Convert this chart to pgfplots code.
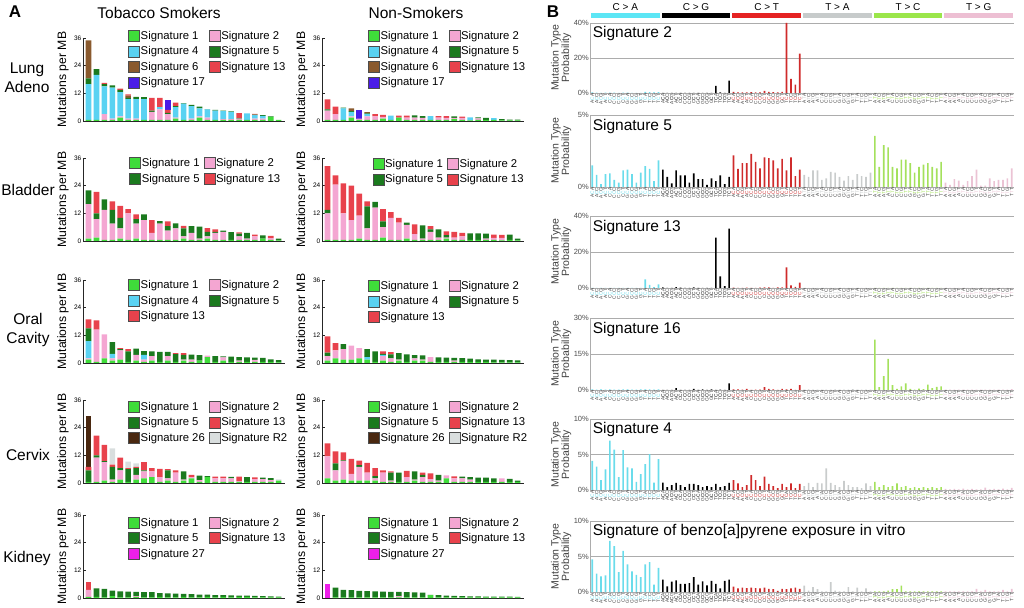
\documentclass[border=0pt]{standalone}
\usepackage{pgfplots}
\pgfplotsset{compat=1.18}
\usepackage{pgfplotstable}
\usepackage{fontspec}
\setmainfont{Liberation Sans}
\newcommand\fs[1]{\fontsize{#1}{#1}\selectfont}
\definecolor{cs1}{HTML}{3FDC3A}
\definecolor{cs2}{HTML}{F4A6D2}
\definecolor{cs4}{HTML}{5AD2F2}
\definecolor{cs5}{HTML}{1B7A1E}
\definecolor{cs6}{HTML}{8A5A2E}
\definecolor{cs13}{HTML}{E8424C}
\definecolor{cs17}{HTML}{4A1CE6}
\definecolor{cs26}{HTML}{4A2810}
\definecolor{csR2}{HTML}{D9DEDE}
\definecolor{cs27}{HTML}{EE1FEA}
\definecolor{bt0}{HTML}{6ADCEB}
\definecolor{bt1}{HTML}{000000}
\definecolor{bt2}{HTML}{CF2B2B}
\definecolor{bt3}{HTML}{C9CCCC}
\definecolor{bt4}{HTML}{A4E15C}
\definecolor{bt5}{HTML}{EBC3D4}
\definecolor{bd0}{HTML}{5CE6F5}
\definecolor{bd2}{HTML}{E52222}
\definecolor{bd3}{HTML}{C7CBCB}
\definecolor{bd4}{HTML}{9BE64A}
\definecolor{bd5}{HTML}{EDBFD3}

\newcommand\ctxB[1]{\ifcase#1 A\or C\or G\or T\fi}
\newcommand\ctxlab[1]{\pgfmathtruncatemacro\ctxM{int(#1/16)}\pgfmathtruncatemacro\ctxF{int(mod(#1,16)/4)}\pgfmathtruncatemacro\ctxT{mod(#1,4)}\ctxB{\ctxF}\textcolor{bt\ctxM}{\ifnum\ctxM<3 C\else T\fi}\ctxB{\ctxT}}

\pgfplotsset{
 sig/.style={fill=#1, draw=none, legend image code/.code={\draw[fill=#1,draw=black!70,line width=0.5pt] (0pt,-5.5pt) rectangle (11pt,5.5pt);}},
 Aax/.style={scale only axis, width=202pt, height=83pt, ymin=0, ymax=36, ytick={0,12,24,36},
   xmin=-0.7, xmax=24.8, xtick=\empty, ybar stacked, bar width=5.6pt,
   axis lines=left, axis line style={-,black!85,line width=0.6pt},
   tick align=inside, major tick length=2.5pt, tick style={black!85,line width=0.5pt},
   yticklabel style={font=\fs{6.5}, inner sep=1.5pt},
   ylabel={Mutations per MB}, ylabel style={font=\fs{12.2}, at={(axis description cs:-0.099,0.5)}, anchor=center},
   legend cell align=left, legend columns=2,
   legend style={draw=none, fill=none, inner sep=0pt, font=\fs{11.3}, row sep=3.8pt,
     /tikz/every even column/.append style={column sep=3pt}, nodes={inner sep=1pt}, anchor=north west},
   /pgf/number format/assume math mode=true, clip=false},
 Bax/.style={scale only axis, width=424pt, xmin=-0.5, xmax=95.5, ymin=0, ybar, bar width=1.7pt, bar shift=0pt,
   xtick={0,...,95}, xticklabel={\ctxlab{\ticknum}},
   xticklabel style={rotate=90, anchor=east, font=\fs{4.8}, inner sep=0.6pt, text=black!75},
   major tick length=0pt, axis lines=left, axis line style={-,gray!65,line width=0.8pt},
   ymajorgrids, grid style={gray!65,line width=0.8pt},
   yticklabel style={font=\fs{7.5}, text=black!70, inner sep=1pt},
   ylabel={Mutation Type\\Probability}, ylabel style={font=\fs{10.5}, align=center, text=black!75, at={(axis description cs:-0.068,0.5)}, anchor=center},
   clip=false}
}
\newcommand\Ap[2]{\addplot[sig=c#1] table[x expr=\coordindex,y=#1]{#2};}
\newcommand\Bp[1]{%
 \addplot[fill=bt0,draw=none] table[x expr=\coordindex,y=CA]{#1};
 \addplot[fill=bt1,draw=none] table[x expr=\coordindex+16,y=CG]{#1};
 \addplot[fill=bt2,draw=none] table[x expr=\coordindex+32,y=CT]{#1};
 \addplot[fill=bt3,draw=none] table[x expr=\coordindex+48,y=TA]{#1};
 \addplot[fill=bt4,draw=none] table[x expr=\coordindex+64,y=TC]{#1};
 \addplot[fill=bt5,draw=none] table[x expr=\coordindex+80,y=TG]{#1};}

% ---------------- Panel A data ----------------
\pgfplotstableread{
s1 s2 s4 s5 s6 s13 s17
0.5 0 15.5 2.5 16.5 0 0
0.5 0 19.5 2.5 0 0 0
0.5 2.5 12 1 0 0.5 0
0.5 0.5 13.5 1 0 0 0
1.5 0.5 10.5 1 0 0.5 0
0.5 0.5 8.5 0.5 1 0.5 0
0.5 0.5 8.5 1 0 0 0
0.5 0 9 0.8 0 0 0
0.5 3.5 0 0.5 0 5.5 0
0.5 4.5 1 0 0 4 0
0.5 2.5 0 0.5 0 1.3 4.3
1 0.5 4.5 0.5 0 1.5 0
0.5 0 7 0.3 0 0 0
0.5 0.5 5.5 0.5 0 0 0
1.5 0.5 3.5 0.7 0 0 0
0.5 1 3.5 0.2 0 0 0
0.5 0 4 0.3 0 0 0
0.5 0.3 3.5 0.2 0 0 0
0.5 0.3 3.2 0.2 0 0 0
0.5 0.5 0 0.2 0 2.2 0
0.5 0 2.8 0 0 0 0
0.5 0.5 1.5 0.3 0 0.3 0
0.5 0.5 1.2 0.3 0 0 0
1.8 0 0 0.2 0 0 0
0.5 0 0 0 0 0 0
}\lungS
\pgfplotstableread{
s1 s2 s4 s5 s6 s13 s17
0.5 4 0 0.5 0 4.4 0
0.5 2.5 0 0 0 3.2 0
0.5 0 5 0.3 0 0 0
1.5 0.5 2 0.3 1.2 0 0
0.5 0.5 0 0 0 0 3.6
0.5 1.5 1 0.3 0.6 0 0
0.5 1.5 0 0 0 1 0
1 0.8 0 0 0 0.9 0
0.5 0 1.8 0 0 0 0
1.5 0 0 0 0 0.8 0
0.5 1 0 0 0 0.8 0
0.5 1 0 0.9 0 0 0
0.5 0.8 0 0.8 0 0 0
0.5 0 1.6 0 0 0 0
0.5 1 0 0 0 0.6 0
0.5 0.8 0 0 0 0.8 0
0.8 0.5 0 0.7 0 0 0
0.5 0.8 0 0 0 0.6 0
0.3 0 1.3 0 0 0 0
0.5 0.6 0 0.5 0 0 0
0.5 0 0 0.8 0 0 0
0.5 0 0.7 0 0 0 0
0.3 0 0 0.5 0 0 0
0.3 0 0 0.3 0 0 0
0.3 0 0 0.3 0 0 0
}\lungN
\pgfplotstableread{
s1 s2 s5 s13
1 15 6 0
1.5 8 2.5 9.3
0.5 13 4.5 0
0.5 7 6 3.7
1 4.5 4.5 5.2
0.5 11.5 0 1.8
1 6.5 2 2
0.5 8.5 2.5 0
0.5 3 0 5.5
0.5 7 1.1 0
0.5 4 2 2
0.5 5 2.1 0
1 1 3.5 1.1
0.5 3 3 0
0.5 0.5 5.2 0
1 1 2 1.6
0.5 3 0.5 1
0.5 3.5 0.5 0
0.5 0 3.3 0
0.5 1.5 1.2 0.5
0.5 0.5 2.5 0
0.5 1.5 0 0.8
1 0 1.4 0
0.5 0.7 0 1
0.3 0 0.7 0
}\bladS
\pgfplotstableread{
s1 s2 s5 s13
0.5 11.5 1.5 19
0.5 24 0 4
0.5 11.5 0 13
0.5 8.5 0 15
1 10 0 9.5
0.5 5 9.5 2.2
0.5 14 2.5 0
1.5 4.5 2.5 5.3
0.5 9.5 0 2.5
0.5 7.5 0 2
1 6 1 0
0.5 2.5 0 4.2
0.5 0.5 5.8 0
0.5 3.5 1 1.5
0.5 1 3.5 0
1 0.5 1 1.7
0.5 1 0 2.5
0.5 1.5 0 1.5
0.5 0 2.8 0
0.5 0 2.8 0
0.5 0.5 2.2 0
0.5 0.8 0 1.5
0.3 1 0 1.4
0.5 0 2.3 0
0.3 0 0.7 0
}\bladN
\pgfplotstableread{
s1 s2 s4 s5 s13
1.5 0.5 7.5 5.5 3.9
0.5 14 0 0 4
2 10.4 0 0 0
1 1 2 5 0
1.5 4 0 0.5 0.5
0.5 0 0 4.5 1
1 2.5 0 2.7 0
0.5 1 2 1.7 0
1 2 0 2 0
0.5 0 0 4.3 0
1 2 0 1.8 0
0.5 0 0 3.3 0.5
1 0.5 0 2 0.8
0.5 1 0 2.1 0
1 0 0 2.4 0
2.5 0.7 0 0 0
0.5 0 0 2.5 0
1 1.4 0 0.5 0
0.5 0 0 2.3 0
0.5 0.5 0 1.5 0
0.5 0 0 1.9 0
0.5 0.8 0 1 0
0.5 0 0 1.7 0
0.5 0 0 1.1 0
0.3 0 0 0.9 0
}\oralS
\pgfplotstableread{
s1 s2 s4 s5 s13
1 2 0 1.5 7
2 3.5 0 0 3.1
1.5 4.5 0 2.2 0
1.5 6 0 0 0
2 4.5 0 0 0
1.5 0 1 3.5 0
0.5 0 0 4.5 0
1 2 0.5 0.5 1
0.5 1.5 0 1.7 1
1 0.5 0 2.8 0
0.5 0 0 3.2 0
1 1 0 1.4 0
1 0.5 0 1.8 0
0.5 2 0 0 0
0.5 0 0 1.9 0
0.5 0 0 1.8 0
0.5 0.5 0 1.2 0
0.5 0 0 1.6 0
0.5 0 0 1.4 0
0.5 0 0 1.1 0
0.5 0 0 1 0
0.3 0 0 1.2 0
0.3 0 0 1 0
0.3 0 0 0.9 0
0.3 0 0 0.8 0
}\oralN
\pgfplotstableread{
s1 s2 s5 s13 s26 sR2
0.5 0 5 1.5 22 0
0.5 10.5 1 8.5 0 0
1 8 0.5 7 0 0
0.5 1 5.5 1 0 7
1.5 4 1 4.5 0 0
0.5 0 5.5 0.5 0 2.8
1.5 2 3 0.5 0 1.5
2 3 0.5 3.5 0 0
2.5 2.5 0 1.5 0 0
0.5 2 0 3.6 0 0
1 1 3.5 0.5 0 0
0.5 4 0 1 0 0
1 0.5 3.5 0 0 0
2 0.5 0 1 0 0
0.5 0.7 2 0 0 0
2.5 0 0.5 0 0 0
0.5 1.5 0 0.8 0 0
0.5 1.5 0 0.8 0 0
0.5 1.5 0.7 0 0 0
0.5 0.3 0 2 0 0
0.5 0 2 0 0 0
0.5 1.2 0 0.7 0 0
0.5 1.2 0.6 0 0 0
0.5 0.8 0.8 0 0 0
1 0 0 0 0 0.6
}\cervS
\pgfplotstableread{
s1 s2 s5 s13 s26 sR2
2 9.5 0 5.7 0 0
1 4.5 3 5.2 0 0
1.5 8 0.3 3.5 0 0
1 3 0 6.5 0 0
1 6 0.7 2 0 0
1 3.5 0 4.2 0 0
1 1 1 3.5 0 0
0.5 4 0 1 0 0
0.5 0.5 3.5 0.5 0 0
0.5 0 4 0 0 0
0.5 2 0 2.8 0 0
1 0.5 3.5 0 0 0
0.5 2 1 1 0 0
0.5 1.2 0 2.5 0 0
0.5 0.5 2.5 0 0 0
2 1.3 0 0 0 0
0.5 1.5 0 0.9 0 0
0.5 1.5 0.8 0 0 0
0.5 1 1 0 0 0
0.5 0 1.8 0 0 0
0.5 0 1.8 0 0 0
0.5 0 1.5 0 0 0
0.5 1.5 0 0 0 0
0.5 0 1.3 0 0 0
0.5 0 0.5 0 0 0
}\cervN
\pgfplotstableread{
s1 s2 s5 s13 s27
0.5 3 0 3.5 0
0.5 0 3.7 0 0
0.3 0 3.7 0 0
0.8 0 2.4 0 0
0.3 0 2.6 0 0
0.3 0 2.5 0 0
0.5 0.3 1.9 0 0
0.3 0 2.3 0 0
0.3 0 2.2 0 0
0.5 0 1.6 0 0
0.3 0 1.7 0 0
0.3 0 1.6 0 0
0.5 0 1.3 0 0
0.3 0 1.4 0 0
0.3 0 1.2 0 0
0.5 0 1.0 0 0
0.3 0 1.0 0 0
0.5 0 0.7 0 0
0.3 0 0.8 0 0
0.5 0 0.5 0 0
0.5 0 0.5 0 0
0.3 0 0.6 0 0
0.3 0 0.5 0 0
0.3 0 0.4 0 0
0.3 0 0.3 0 0
}\kidS
\pgfplotstableread{
s1 s2 s5 s13 s27
0 0 0 0 6
0.3 0 4.2 0 0
0.3 0 3.2 0 0
0.3 0 3.1 0 0
0.3 0 2.8 0 0
0.3 0 2.7 0 0
0.3 0 2.6 0 0
0.3 0 2.5 0 0
0.3 0 2.4 0 0
0.3 0.4 2.0 0 0
0.3 0 2.2 0 0
0.3 0 2.1 0 0
0.3 0 2.0 0 0
1.2 0 0.2 0 0
0.3 0 1.0 0 0
0.3 0 0.7 0 0
0.3 0 0.6 0 0
0.3 0 0.5 0 0
0.3 0 0.4 0 0
0.3 0 0.4 0 0
0.3 0 0.3 0 0
0.3 0 0.3 0 0
0.3 0 0.3 0 0
0.3 0 0.3 0 0
0.3 0 0.2 0 0
}\kidN

% ---------------- Panel B data ----------------
\pgfplotstableread{
CA CG CT TA TC TG
0.3 0.1 0.6 0.1 0.1 0.1
0.2 0.1 0.3 0.1 0.1 0.1
0.1 0.1 0.3 0.1 0.1 0.1
0.2 0.1 0.4 0.1 0.1 0.1
0.2 0.1 0.5 0.1 0.1 0.1
0.2 0.1 0.3 0.1 0.1 0.1
0.1 0.1 0.3 0.1 0.1 0.1
0.2 0.1 1.2 0.1 0.1 0.1
0.2 0.1 0.6 0.1 0.1 0.1
0.1 0.1 0.5 0.1 0.1 0.1
0.1 0.1 0.4 0.1 0.1 0.1
0.1 0.1 0.6 0.1 0.1 0.1
0.6 4.0 40 0.1 0.1 0.1
0.5 0.3 8 0.1 0.1 0.1
0.3 0.1 4.8 0.1 0.1 0.1
0.5 7.0 22.5 0.1 0.1 0.1
}\sigTwo
\pgfplotstableread{
CA CG CT TA TC TG
1.5 1.2 2.2 0.85 3.55 0.3
0.85 0.7 1.25 0.7 1.4 0.15
0.2 0.25 1.65 1.15 2.9 0.55
0.9 1.15 1.65 1.15 2.75 0.45
0.95 0.8 2.3 0.5 1.4 0.15
0.5 0.8 1.75 0.6 1.3 0.4
0.3 0.3 1.3 1.05 1.9 0.75
1.15 0.95 2.05 1.0 1.9 1.2
1.2 0.55 2.0 0.7 1.65 0.1
0.9 0.55 1.85 0.45 1.0 0.1
0.3 0.15 1.3 0.75 1.4 0.6
1.0 0.6 1.95 0.5 1.55 0.4
1.45 0.4 1.15 0.9 1.65 0.5
1.25 0.8 2.05 0.75 1.4 0.5
0.4 0.2 0.75 0.7 1.3 0.6
1.85 0.7 1.2 1.0 1.75 1.3
}\sigFive
\pgfplotstableread{
CA CG CT TA TC TG
0.1 0.3 0.2 0.05 0.05 0.05
0.1 0.1 0.1 0.05 0.05 0.05
0.1 0.1 0.1 0.05 0.05 0.05
0.1 0.5 0.2 0.05 0.05 0.05
0.1 0.2 0.1 0.05 0.05 0.05
0.1 0.1 0.1 0.05 0.05 0.05
0.1 0.1 0.2 0.05 0.05 0.05
0.1 0.4 0.3 0.05 0.05 0.05
0.1 0.1 0.3 0.05 0.05 0.05
0.1 0.1 0.1 0.05 0.05 0.05
0.1 0.1 0.3 0.05 0.05 0.05
0.1 0.1 0.3 0.05 0.05 0.05
4.8 28 11.5 0.05 0.05 0.05
1.8 6.5 1.5 0.05 0.05 0.05
0.5 1.0 0.6 0.05 0.05 0.05
2.0 33 3.0 0.05 0.05 0.05
}\sigThirteen
\pgfplotstableread{
CA CG CT TA TC TG
0.3 0.1 0.3 0.2 21 0.2
0.2 0.1 0.3 0.3 1.2 0.2
0.3 0.1 0.2 0.2 5.8 0.2
0.2 0.8 0.5 0.2 13 0.2
0.3 0.1 0.1 0.2 2.0 0.2
0.2 0.1 0.2 0.2 0.5 0.2
0.2 0.1 0.2 0.2 1.5 0.2
0.3 0.5 1.2 0.3 2.8 0.2
0.3 0.1 0.5 0.2 0.5 0.2
0.2 0.3 0.3 0.2 0.2 0.2
0.2 0.1 0.1 0.2 0.6 0.2
0.3 0.3 0.5 0.4 0.4 0.2
0.3 0.1 0.3 0.2 2.2 0.2
0.3 0.2 0.5 0.2 0.8 0.2
0.2 0.1 0.1 0.2 1.3 0.2
0.3 2.8 2.0 0.2 1.5 0.4
}\sigSixteen
\pgfplotstableread{
CA CG CT TA TC TG
4.1 1.05 1.4 0.55 1.15 0.15
3.3 0.4 0.95 1.0 0.4 0.1
1.4 0.7 0.4 0.4 0.7 0.15
2.9 1.0 0.7 1.0 0.4 0.1
6.95 0.7 2.1 0.95 0.55 0.2
5.7 0.4 1.4 3.05 0.95 0.1
1.8 0.85 0.55 1.0 0.4 0.15
5.6 0.85 1.9 0.7 0.55 0.1
3.2 0.7 0.85 0.4 0.25 0.1
3.05 0.4 0.55 1.3 0.4 0.35
1.15 0.55 0.25 0.7 0.25 0.1
2.25 0.4 0.85 0.4 0.4 0.15
3.65 0.85 0.4 0.4 0.25 0.1
5.05 0.4 0.95 0.25 0.4 0.2
1.05 0.55 0.25 0.95 0.25 0.1
4.35 1.0 0.85 0.55 0.4 0.3
}\sigFour
\pgfplotstableread{
CA CG CT TA TC TG
4.6 1.75 0.75 0.9 0.1 0.1
2.6 0.8 0.5 0.2 0.1 0.1
2.2 1.45 0.6 0.7 0.1 0.1
2.35 1.65 0.55 0.4 0.2 0.1
7.2 1.15 0.6 0.1 0.4 0.1
6.45 1.15 0.55 0.1 0.4 0.1
2.8 1.25 0.5 1.4 0.9 0.1
5.8 2.1 0.6 0.2 0.1 0.45
3.9 1.05 0.45 0.1 0.1 0.1
2.9 1.5 0.4 0.1 0.1 0.3
2.4 0.95 0.15 0.7 0.1 0.1
2.1 1.55 0.45 0.1 0.1 0.1
3.9 1.15 0.4 0.6 0.1 0.1
4.2 0.5 0.5 0.1 0.1 0.3
1.05 1.55 0.6 0.5 0.1 0.1
3.4 1.75 0.45 0.1 0.1 0.45
}\sigBenzo

\begin{document}
\begin{tikzpicture}
\useasboundingbox (0,0) rectangle (1024pt,607pt);
% titles
\node[font=\bfseries\fs{17}] at (15pt,595pt) {A};
\node[font=\bfseries\fs{17}] at (553pt,595pt) {B};
\node[font=\fs{15.5}] at (159pt,594pt) {Tobacco Smokers};
\node[font=\fs{15.5}] at (416pt,594pt) {Non-Smokers};
\node[font=\fontsize{15.5}{19.5}\selectfont, align=center] at (27pt,529pt) {Lung\\Adeno};
\node[font=\fs{15.5}] at (28pt,417pt) {Bladder};
\node[font=\fontsize{15.5}{19.5}\selectfont, align=center] at (28pt,277pt) {Oral\\Cavity};
\node[font=\fs{15.5}] at (28pt,152pt) {Cervix};
\node[font=\fs{15.5}] at (27pt,49pt) {Kidney};

% ---- Lung ----
\begin{axis}[Aax, at={(83pt,486pt)}, anchor=south west, legend style={at={(0.223,1.096)}}]
\Ap{s1}{\lungS}\Ap{s2}{\lungS}\Ap{s4}{\lungS}\Ap{s5}{\lungS}\Ap{s6}{\lungS}\Ap{s13}{\lungS}\Ap{s17}{\lungS}
\legend{Signature 1,Signature 2,Signature 4,Signature 5,Signature 6,Signature 13,Signature 17}
\end{axis}
\begin{axis}[Aax, at={(322pt,486pt)}, anchor=south west, legend style={at={(0.227,1.096)}}]
\Ap{s1}{\lungN}\Ap{s2}{\lungN}\Ap{s4}{\lungN}\Ap{s5}{\lungN}\Ap{s6}{\lungN}\Ap{s13}{\lungN}\Ap{s17}{\lungN}
\legend{Signature 1,Signature 2,Signature 4,Signature 5,Signature 6,Signature 13,Signature 17}
\end{axis}
% ---- Bladder ----
\begin{axis}[Aax, at={(83pt,366pt)}, anchor=south west, legend style={at={(0.228,1.01)}}]
\Ap{s1}{\bladS}\Ap{s2}{\bladS}\Ap{s5}{\bladS}\Ap{s13}{\bladS}
\legend{Signature 1,Signature 2,Signature 5,Signature 13}
\end{axis}
\begin{axis}[Aax, at={(322pt,366pt)}, anchor=south west, legend style={at={(0.25,1.0)}}]
\Ap{s1}{\bladN}\Ap{s2}{\bladN}\Ap{s5}{\bladN}\Ap{s13}{\bladN}
\legend{Signature 1,Signature 2,Signature 5,Signature 13}
\end{axis}
% ---- Oral ----
\begin{axis}[Aax, at={(83pt,244pt)}, anchor=south west, legend style={at={(0.223,1.01)}}]
\Ap{s1}{\oralS}\Ap{s2}{\oralS}\Ap{s4}{\oralS}\Ap{s5}{\oralS}\Ap{s13}{\oralS}
\legend{Signature 1,Signature 2,Signature 4,Signature 5,Signature 13}
\end{axis}
\begin{axis}[Aax, at={(322pt,244pt)}, anchor=south west, legend style={at={(0.227,1.0)}}]
\Ap{s1}{\oralN}\Ap{s2}{\oralN}\Ap{s4}{\oralN}\Ap{s5}{\oralN}\Ap{s13}{\oralN}
\legend{Signature 1,Signature 2,Signature 4,Signature 5,Signature 13}
\end{axis}
% ---- Cervix ----
\begin{axis}[Aax, at={(83pt,124pt)}, anchor=south west, legend style={at={(0.223,0.99)}}]
\Ap{s1}{\cervS}\Ap{s2}{\cervS}\Ap{s5}{\cervS}\Ap{s13}{\cervS}\Ap{s26}{\cervS}\Ap{sR2}{\cervS}
\legend{Signature 1,Signature 2,Signature 5,Signature 13,Signature 26,Signature R2}
\end{axis}
\begin{axis}[Aax, at={(322pt,124pt)}, anchor=south west, legend style={at={(0.227,0.99)}}]
\Ap{s1}{\cervN}\Ap{s2}{\cervN}\Ap{s5}{\cervN}\Ap{s13}{\cervN}\Ap{s26}{\cervN}\Ap{sR2}{\cervN}
\legend{Signature 1,Signature 2,Signature 5,Signature 13,Signature 26,Signature R2}
\end{axis}
% ---- Kidney ----
\begin{axis}[Aax, at={(83pt,9pt)}, anchor=south west, legend style={at={(0.223,0.98)}}]
\Ap{s1}{\kidS}\Ap{s2}{\kidS}\Ap{s5}{\kidS}\Ap{s13}{\kidS}\Ap{s27}{\kidS}
\legend{Signature 1,Signature 2,Signature 5,Signature 13,Signature 27}
\end{axis}
\begin{axis}[Aax, at={(322pt,9pt)}, anchor=south west, legend style={at={(0.227,0.98)}}]
\Ap{s1}{\kidN}\Ap{s2}{\kidN}\Ap{s5}{\kidN}\Ap{s13}{\kidN}\Ap{s27}{\kidN}
\legend{Signature 1,Signature 2,Signature 5,Signature 13,Signature 27}
\end{axis}

% ---------------- Panel B ----------------
\begin{axis}[Bax, at={(590pt,514pt)}, anchor=south west, height=70pt, ymax=40, ytick={0,20,40}, yticklabels={0\%,20\%,40\%}]
\Bp{\sigTwo}
\fill[bd0] (axis cs:-0.27,42.86) rectangle (axis cs:15.27,45.71);
\fill[black] (axis cs:15.73,42.86) rectangle (axis cs:31.27,45.71);
\fill[bd2] (axis cs:31.73,42.86) rectangle (axis cs:47.27,45.71);
\fill[bd3] (axis cs:47.73,42.86) rectangle (axis cs:63.27,45.71);
\fill[bd4] (axis cs:63.73,42.86) rectangle (axis cs:79.27,45.71);
\fill[bd5] (axis cs:79.73,42.86) rectangle (axis cs:95.27,45.71);
\node[font=\fs{10}] at (axis cs:7.5,49.3) {C > A};
\node[font=\fs{10}] at (axis cs:23.5,49.3) {C > G};
\node[font=\fs{10}] at (axis cs:39.5,49.3) {C > T};
\node[font=\fs{10}] at (axis cs:55.5,49.3) {T > A};
\node[font=\fs{10}] at (axis cs:71.5,49.3) {T > C};
\node[font=\fs{10}] at (axis cs:87.5,49.3) {T > G};
\node[anchor=north west, font=\fs{15.5}, inner sep=0pt] at (rel axis cs:0.006,0.95) {Signature 2};
\end{axis}
\begin{axis}[Bax, at={(590pt,420pt)}, anchor=south west, height=72pt, ymax=5, ytick={0,5}, yticklabels={0\%,5\%}]
\Bp{\sigFive}
\node[anchor=north west, font=\fs{15.5}, inner sep=0pt] at (rel axis cs:0.006,0.95) {Signature 5};
\end{axis}
\begin{axis}[Bax, at={(590pt,319pt)}, anchor=south west, height=72pt, ymax=40, ytick={0,20,40}, yticklabels={0\%,20\%,40\%}]
\Bp{\sigThirteen}
\node[anchor=north west, font=\fs{15.5}, inner sep=0pt] at (rel axis cs:0.006,0.95) {Signature 13};
\end{axis}
\begin{axis}[Bax, at={(590pt,217pt)}, anchor=south west, height=72pt, ymax=30, ytick={0,15,30}, yticklabels={0\%,15\%,30\%}]
\Bp{\sigSixteen}
\node[anchor=north west, font=\fs{15.5}, inner sep=0pt] at (rel axis cs:0.006,0.95) {Signature 16};
\end{axis}
\begin{axis}[Bax, at={(590pt,117pt)}, anchor=south west, height=71pt, ymax=10, ytick={0,5,10}, yticklabels={0\%,5\%,10\%}]
\Bp{\sigFour}
\node[anchor=north west, font=\fs{15.5}, inner sep=0pt] at (rel axis cs:0.006,0.95) {Signature 4};
\end{axis}
\begin{axis}[Bax, at={(590pt,15pt)}, anchor=south west, height=71pt, ymax=10, ytick={0,5,10}, yticklabels={0\%,5\%,10\%}]
\Bp{\sigBenzo}
\node[anchor=north west, font=\fs{15.5}, inner sep=0pt] at (rel axis cs:0.006,0.95) {Signature of benzo[a]pyrene exposure in vitro};
\end{axis}
\end{tikzpicture}
\end{document}
